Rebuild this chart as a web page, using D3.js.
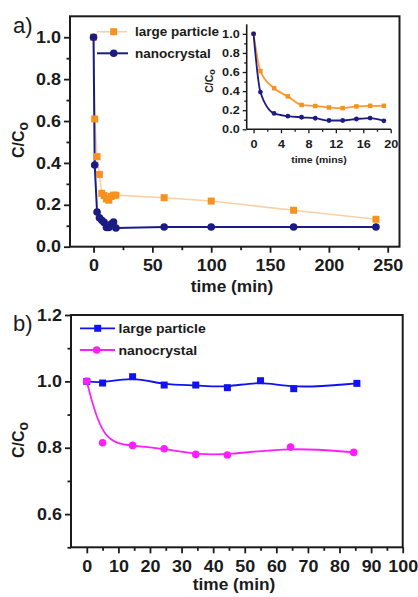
<!DOCTYPE html>
<html>
<head>
<meta charset="utf-8">
<script src="https://cdn.jsdelivr.net/npm/d3@7"></script>
<style>
  html, body { margin: 0; padding: 0; background: #fff; }
  svg { display: block; }
</style>
</head>
<body>
<svg id="chart" width="418" height="597"></svg>
<script>
// ---- Panel a: relative concentration over 240 min (inset: first 20 min) ----
const timeA  = [0, 1, 3, 5, 7, 9, 11, 13, 15, 17, 19, 60, 100, 170, 240];
const largeA = [1.0, 0.61, 0.43, 0.345, 0.255, 0.244, 0.228, 0.222, 0.24, 0.246, 0.246, 0.234, 0.218, 0.174, 0.131];
const nanoA  = [1.0, 0.39, 0.166, 0.138, 0.126, 0.116, 0.092, 0.092, 0.108, 0.118, 0.089, 0.094, 0.094, 0.094, 0.094];
const insetMaxTime = 20;

// ---- Panel b: relative concentration over 85 min ----
const timeBLarge = [0, 5, 14.5, 24.5, 34.5, 44.5, 55, 65.5, 85.5];
const largeB     = [1.0, 0.995, 1.014, 0.989, 0.989, 0.981, 1.002, 0.978, 0.994];
const timeBNano  = [0, 5, 14.5, 24.5, 34.5, 44.5, 64.5, 84.5];
const nanoB      = [1.0, 0.815, 0.807, 0.797, 0.780, 0.778, 0.802, 0.786];

const seriesNames = ["large particle", "nanocrystal"];

// tick values
const aXMajor = [0, 50, 100, 150, 200, 250];
const aXMinor = [25, 75, 125, 175, 225];
const aYMajor = [0, 0.2, 0.4, 0.6, 0.8, 1.0];
const aYMinor = [0.1, 0.3, 0.5, 0.7, 0.9];
const insetXMajor = [0, 4, 8, 12, 16, 20];
const insetXMinor = [2, 6, 10, 14, 18];
const insetYMajor = [0, 0.2, 0.4, 0.6, 0.8, 1.0];
const insetYMinor = [0.1, 0.3, 0.5, 0.7, 0.9];
const bXMajor = [0, 10, 20, 30, 40, 50, 60, 70, 80, 90, 100];
const bXMinor = [5, 15, 25, 35, 45, 55, 65, 75, 85, 95];
const bYMajor = [0.6, 0.8, 1.0, 1.2];
const bYMinor = [0.5, 0.7, 0.9, 1.1];

const FONT = '"Liberation Sans", Arial, Helvetica, sans-serif';
const INK = "#1b1b1b";
const ORANGE = "#f7921e";
const PEACH = "#fbd0a6";
const NAVY = "#1b1b86";
const BLUE = "#1212ee";
const MAGENTA = "#ff1eff";

const svg = d3.select("#chart");

// widen glyphs slightly around their anchor point
function stretch(sel, k) {
  sel.each(function () {
    const t = d3.select(this);
    const x = +t.attr("x") || 0, y = +t.attr("y") || 0;
    t.attr("x", 0).attr("y", 0)
     .attr("transform", `translate(${x},${y}) scale(${k},1)`);
  });
}

function styleAxis(g, o) {
  g.select(".domain").remove();
  g.selectAll(".tick line").attr("stroke", INK).attr("stroke-width", o.sw);
  g.selectAll(".tick text")
    .attr("font-family", FONT).attr("font-weight", "bold")
    .attr("font-size", o.fs).attr("fill", INK);
  stretch(g.selectAll(".tick text"), o.k);
}

function leftAxis(parent, x0, y, major, minor, fmt, o) {
  const gm = parent.append("g").attr("transform", `translate(${x0},0)`)
    .call(d3.axisLeft(y).tickValues(minor).tickSize(o.minorLen).tickFormat(""));
  styleAxis(gm, o);
  const gM = parent.append("g").attr("transform", `translate(${x0},0)`)
    .call(d3.axisLeft(y).tickValues(major).tickSize(o.majorLen).tickPadding(o.pad).tickFormat(fmt));
  styleAxis(gM, o);
}

function bottomAxis(parent, y0, x, major, minor, fmt, o) {
  const gm = parent.append("g").attr("transform", `translate(0,${y0})`)
    .call(d3.axisBottom(x).tickValues(minor).tickSize(o.minorLen).tickFormat(""));
  styleAxis(gm, o);
  const gM = parent.append("g").attr("transform", `translate(0,${y0})`)
    .call(d3.axisBottom(x).tickValues(major).tickSize(o.majorLen).tickPadding(o.pad).tickFormat(fmt));
  styleAxis(gM, o);
}

function yTitle(parent, x, y, fs, subFs) {
  const t = parent.append("text")
    .attr("transform", `translate(${x},${y}) rotate(-90)`)
    .attr("text-anchor", "middle")
    .attr("font-family", FONT).attr("font-weight", "bold")
    .attr("font-size", fs).attr("fill", INK);
  t.append("tspan").text("C/C");
  t.append("tspan").attr("font-size", subFs).attr("dy", "0.32em").text("o");
}

function textAt(parent, x, y, str, o) {
  const t = parent.append("text")
    .attr("x", x).attr("y", y)
    .attr("text-anchor", o.anchor || "start")
    .attr("font-family", FONT)
    .attr("font-weight", o.weight || "bold")
    .attr("font-size", o.fs).attr("fill", INK)
    .text(str);
  if (o.k) stretch(t, o.k);
  return t;
}

function squares(parent, pts, x, y, size, fill) {
  parent.append("g").selectAll("rect").data(pts).join("rect")
    .attr("x", d => x(d.t) - size / 2).attr("y", d => y(d.c) - size / 2)
    .attr("width", size).attr("height", size).attr("fill", fill);
}

function dots(parent, pts, x, y, r, fill) {
  parent.append("g").selectAll("circle").data(pts).join("circle")
    .attr("cx", d => x(d.t)).attr("cy", d => y(d.c)).attr("r", r).attr("fill", fill);
}

const zip = (ts, cs) => ts.map((t, i) => ({ t, c: cs[i] }));

// ================= Panel a =================
const gA = svg.append("g");
const xA = d3.scaleLinear().domain([-20, 260]).range([70, 399.5]);
const yA = d3.scaleLinear().domain([0, 1.1]).range([246.7, 16.3]);
const fmt1 = d3.format(".1f"), fmtInt = d3.format("d");
const mainAxis = { sw: 1.8, fs: 16, k: 1.12, majorLen: 6, minorLen: 3.5, pad: 3 };

leftAxis(gA, 70, yA, aYMajor, aYMinor, fmt1, mainAxis);
bottomAxis(gA, 246.7, xA, aXMajor, aXMinor, fmtInt, { ...mainAxis, pad: 7 });

const ptsLargeA = zip(timeA, largeA);
const ptsNanoA = zip(timeA, nanoA);
const lineA = d3.line().x(d => xA(d.t)).y(d => yA(d.c));

gA.append("path").attr("d", lineA(ptsLargeA)).attr("fill", "none")
  .attr("stroke", PEACH).attr("stroke-width", 1.6);
gA.append("path").attr("d", lineA(ptsNanoA)).attr("fill", "none")
  .attr("stroke", NAVY).attr("stroke-width", 2);
squares(gA, ptsLargeA, xA, yA, 7, ORANGE);
dots(gA, ptsNanoA, xA, yA, 3.8, NAVY);

gA.append("rect").attr("x", 70).attr("y", 16.3)
  .attr("width", 399.5 - 70).attr("height", 246.7 - 16.3)
  .attr("fill", "none").attr("stroke", INK).attr("stroke-width", 2);

// legend
gA.append("line").attr("x1", 97).attr("x2", 127).attr("y1", 31.7).attr("y2", 31.7)
  .attr("stroke", PEACH).attr("stroke-width", 1.6);
gA.append("rect").attr("x", 113.7 - 3.5).attr("y", 31.7 - 3.5).attr("width", 7).attr("height", 7).attr("fill", ORANGE);
textAt(gA, 135, 36.2, seriesNames[0], { fs: 12.5, k: 1.08 });
gA.append("line").attr("x1", 97).attr("x2", 128).attr("y1", 53.3).attr("y2", 53.3)
  .attr("stroke", NAVY).attr("stroke-width", 2);
gA.append("circle").attr("cx", 113.7).attr("cy", 53.3).attr("r", 3.8).attr("fill", NAVY);
textAt(gA, 135, 57.8, seriesNames[1], { fs: 12.5, k: 1.08 });

yTitle(gA, 24, 140, 16, 14);
textAt(gA, 232, 292, "time (min)", { fs: 16, k: 1.08, anchor: "middle" });
textAt(gA, 13, 33, "a)", { fs: 22, weight: "normal" });

// inset
const gI = svg.append("g");
const xI = d3.scaleLinear().domain([-1, 20]).range([246.7, 390.7]);
const yI = d3.scaleLinear().domain([0, 1.1]).range([129.3, 24.3]);
const insetAxis = { sw: 1.3, fs: 11, k: 1.15, majorLen: 4, minorLen: 2.5, pad: 3 };
leftAxis(gI, 246.7, yI, insetYMajor, insetYMinor, fmt1, insetAxis);
bottomAxis(gI, 129.3, xI, insetXMajor, insetXMinor, fmtInt, { ...insetAxis, pad: 7 });
gI.append("line").attr("x1", 246.7).attr("x2", 246.7).attr("y1", 24.3).attr("y2", 129.3)
  .attr("stroke", INK).attr("stroke-width", 1.6);
gI.append("line").attr("x1", 246.7).attr("x2", 391).attr("y1", 129.3).attr("y2", 129.3)
  .attr("stroke", INK).attr("stroke-width", 1.6);

const ptsLargeI = ptsLargeA.filter(d => d.t <= insetMaxTime);
const ptsNanoI = ptsNanoA.filter(d => d.t <= insetMaxTime);
const lineI = d3.line().x(d => xI(d.t)).y(d => yI(d.c)).curve(d3.curveMonotoneX);
gI.append("path").attr("d", lineI(ptsLargeI)).attr("fill", "none")
  .attr("stroke", "#ff9a30").attr("stroke-width", 1.8);
gI.append("path").attr("d", lineI(ptsNanoI)).attr("fill", "none")
  .attr("stroke", NAVY).attr("stroke-width", 1.8);
squares(gI, ptsLargeI, xI, yI, 4.5, ORANGE);
dots(gI, ptsNanoI, xI, yI, 2.4, NAVY);

yTitle(gI, 212.5, 81, 10.5, 9);
textAt(gI, 319, 163, "time (mins)", { fs: 9.5, k: 1.1, anchor: "middle" });

// ================= Panel b =================
const gB = svg.append("g");
const xB = d3.scaleLinear().domain([-5, 100]).range([71, 402.7]);
const yB = d3.scaleLinear().domain([0.5, 1.2]).range([547.3, 315]);

leftAxis(gB, 71, yB, bYMajor, bYMinor, fmt1, mainAxis);
bottomAxis(gB, 547.3, xB, bXMajor, bXMinor, fmtInt, { ...mainAxis, pad: 7 });

const ptsLargeB = zip(timeBLarge, largeB);
const ptsNanoB = zip(timeBNano, nanoB);
const lineB = d3.line().x(d => xB(d.t)).y(d => yB(d.c)).curve(d3.curveBasis);

gB.append("path").attr("d", lineB(ptsLargeB)).attr("fill", "none")
  .attr("stroke", BLUE).attr("stroke-width", 1.8);
gB.append("path").attr("d", lineB(ptsNanoB)).attr("fill", "none")
  .attr("stroke", MAGENTA).attr("stroke-width", 1.8);
squares(gB, ptsLargeB, xB, yB, 7, BLUE);
dots(gB, ptsNanoB, xB, yB, 3.8, MAGENTA);

gB.append("rect").attr("x", 71).attr("y", 315)
  .attr("width", 402.7 - 71).attr("height", 547.3 - 315)
  .attr("fill", "none").attr("stroke", INK).attr("stroke-width", 2);

// legend
gB.append("line").attr("x1", 80).attr("x2", 115).attr("y1", 328.3).attr("y2", 328.3)
  .attr("stroke", BLUE).attr("stroke-width", 1.8);
gB.append("rect").attr("x", 97.7 - 3.5).attr("y", 328.3 - 3.5).attr("width", 7).attr("height", 7).attr("fill", BLUE);
textAt(gB, 118.5, 333, seriesNames[0], { fs: 13, k: 1.08 });
gB.append("line").attr("x1", 80).attr("x2", 115).attr("y1", 350).attr("y2", 350)
  .attr("stroke", MAGENTA).attr("stroke-width", 1.8);
gB.append("circle").attr("cx", 96.7).attr("cy", 350).attr("r", 3.8).attr("fill", MAGENTA);
textAt(gB, 118.5, 354.7, seriesNames[1], { fs: 13, k: 1.08 });

yTitle(gB, 24, 440, 16, 14);
textAt(gB, 234, 590, "time (min)", { fs: 16, k: 1.08, anchor: "middle" });
textAt(gB, 13, 331, "b)", { fs: 22, weight: "normal" });
</script>
</body>
</html>
